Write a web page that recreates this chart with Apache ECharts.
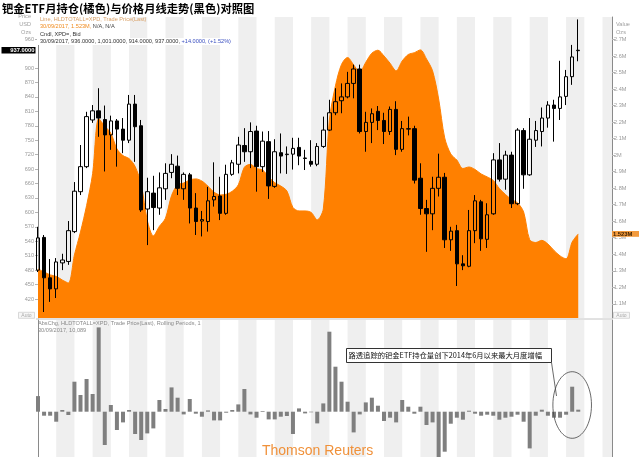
<!DOCTYPE html>
<html><head><meta charset="utf-8">
<script src="https://cdn.jsdelivr.net/npm/echarts@6/dist/echarts.min.js"></script>
<style>html,body{margin:0;padding:0;background:#fff;}#c{width:640px;height:457px;}</style>
</head><body><div id="c"></div>
<script>
// ---- data (monthly, Apr 2010 .. Sep 2017) ----
const lastDate = '30/09/2017';
const open  = [480,548,464,441,495,498,560,643,695,792, 811,793,761,790,773,750,825,780,607,640, 609,649,683,696,649,678,609,582,581,626, 634,598,679,700,739,726,769,695,747,654, 724,720,721,735,712,706,700,737,771,807, 832,840,868,898,768,787,810,791,768,814, 731,773,774,671,608,597,650,673,543,562, 493,488,562,622,544,597,709,669,719,618, 770,678,750,768,796,823,816,841,882,936];
const high  = [570,553,503,505,514,582,663,740,809,823, 858,822,801,794,796,844,844,792,672,676, 683,702,721,718,683,682,640,603,653,704, 674,699,709,757,775,787,780,768,769,752, 764,737,755,755,730,750,744,799,834,858, 868,892,907,907,809,816,821,807,820,831, 790,799,780,702,626,674,722,682,570,574, 511,605,636,626,619,723,744,728,726,775, 775,796,790,818,831,834,915,896,948,1001];
const low   = [476,393,414,422,480,491,557,636,692,786, 757,685,730,695,723,744,705,601,532,563, 595,626,671,636,626,577,553,550,560,612, 584,595,676,681,705,692,643,684,628,651, 681,680,689,698,688,695,696,734,769,802, 806,837,837,764,726,744,771,742,761,719, 726,760,660,595,518,563,633,526,520,447, 480,486,536,520,526,595,664,647,609,615, 649,676,736,737,776,747,792,823,865,914];
const close = [547,464,441,497,501,562,644,695,799,811, 796,761,790,773,750,825,778,605,643,610, 651,681,700,650,679,609,581,585,624,633, 598,679,703,740,726,768,695,748,655,726, 717,721,733,717,713,700,737,771,807,830, 840,868,898,768,787,805,791,768,814,731, 774,774,667,608,597,650,673,543,561,493, 489,562,624,545,595,709,669,719,618,771, 678,752,770,796,823,816,840,882,923,937];
// ETF holdings, million oz
const etf = [1.311,1.293,1.275,1.266,1.244,1.226,1.396,1.535,1.694,1.888, 2.221,2.175,2.133,2.038,1.997,1.979,1.931,1.823,1.606,1.511, 1.569,1.618,1.755,1.821,1.831,1.850,1.856,1.843,1.812,1.776, 1.759,1.763,1.781,1.820,1.927,1.944,1.919,1.910,1.868,1.833, 1.813,1.783,1.683,1.662,1.662,1.653,1.608,1.674,2.213,2.419, 2.549,2.591,2.546,2.503,2.562,2.617,2.635,2.600,2.556,2.510, 2.570,2.609,2.620,2.637,2.582,2.510,2.340,2.104,2.007,1.970, 1.919,1.928,1.913,1.886,1.868,1.847,1.798,1.762,1.732,1.711, 1.656,1.487,1.471,1.484,1.462,1.423,1.390,1.372,1.474,1.523];
// monthly absolute change of holdings, oz
const chg = [78000,-20000,-20000,-50000,8500,-16500,150000,83500,163500,88500, 421500,-166500,33500,-91500,-53500,8500,-111500,-141500,-108500,-83500, 58500,13500,121500,70000,-13500,63500,-10000,-25000,6500,-43500, -43500,-5000,8500,36500,113500,-13500,-30000,3500,-38500,-38500, -25000,-21500,-111500,16500,-8500,-3000,-58500,41500,400000,225000, 150000,50000,-103500,-13500,46500,70000,30000,-46500,-30000,-53500, 58500,25000,-10000,25000,-66500,-53500,-250000,-200000,-60000,-30000, -40000,5000,-10000,-20000,-15000,-20000,-40000,-30000,-25000,-15000, -50000,-183500,-20000,10000,-20000,-30000,-30000,-15000,125000,10089];
// shaded quarters (month index where a grey quarter starts)
const stripeStarts = [3,9,15,21,27,33,39,45,51,57,63,69,75,81,87,93];
const priceTicks = [420,450,480,510,540,570,600,630,660,690,720,750,780,810,840,870,900,960];
const etfTicks = [1.1,1.2,1.3,1.4,1.5,1.6,1.7,1.8,1.9,2.0,2.1,2.2,2.3,2.4,2.5,2.6,2.7];

// ---- chart ----
const X_MIN = -0.33, X_MAX = 94.56;
const PRICE_MIN = 380.5, PRICE_MAX = 1006;
const ETF_MIN = 1.014, ETF_MAX = 2.836;
const CHG_MIN = -226500, CHG_MAX = 458500;
const SF = 'Arial, "Liberation Sans", sans-serif';
const CJK = '"Noto Sans CJK SC", sans-serif';

const candleData = open.map((o, i) => [i, o, close[i], low[i], high[i]]);
const etfData = etf.map((v, i) => [i, v]);
const chgData = chg.map((v, i) => [i, v]);
const stripeAreas = stripeStarts.map(s => [{xAxis: s}, {xAxis: Math.min(s + 3, X_MAX)}]);

const chart = echarts.init(document.getElementById('c'), null, {renderer: 'canvas'});
const axisLbl = {fontSize: 5.6, color: '#9a9a9a', margin: 2, fontFamily: SF};
const option = {
  animation: false,
  backgroundColor: '#fff',
  grid: [
    {left: 36, top: 17, width: 576, height: 301},
    {left: 36, top: 320, width: 576, height: 137}
  ],
  xAxis: [
    {type: 'value', gridIndex: 0, min: X_MIN, max: X_MAX, show: false},
    {type: 'value', gridIndex: 1, min: X_MIN, max: X_MAX, show: false}
  ],
  yAxis: [
    {type: 'value', gridIndex: 0, position: 'left', min: PRICE_MIN, max: PRICE_MAX,
     splitLine: {show: false}, axisLine: {show: true, lineStyle: {color: '#8a8a8a'}},
     axisTick: {show: true, length: 3, customValues: priceTicks, lineStyle: {color: '#b5b5b5'}},
     axisLabel: Object.assign({customValues: priceTicks}, axisLbl)},
    {type: 'value', gridIndex: 0, position: 'right', min: ETF_MIN, max: ETF_MAX,
     splitLine: {show: false}, axisLine: {show: true, lineStyle: {color: '#8a8a8a'}},
     axisTick: {show: true, length: 3, customValues: etfTicks, lineStyle: {color: '#b5b5b5'}},
     axisLabel: Object.assign({customValues: etfTicks, formatter: v => (+v.toFixed(1)) + 'M'}, axisLbl)},
    {type: 'value', gridIndex: 1, position: 'left', min: CHG_MIN, max: CHG_MAX,
     splitLine: {show: false}, axisLine: {show: true, lineStyle: {color: '#8a8a8a'}},
     axisTick: {show: false}, axisLabel: {show: false}},
    {type: 'value', gridIndex: 1, position: 'right', min: CHG_MIN, max: CHG_MAX,
     splitLine: {show: false}, axisLine: {show: true, lineStyle: {color: '#8a8a8a'}},
     axisTick: {show: false}, axisLabel: {show: false}}
  ],
  series: [
    {type: 'line', xAxisIndex: 0, yAxisIndex: 1, data: etfData, silent: true, symbol: 'none',
     lineStyle: {opacity: 0}, z: 0,
     markArea: {silent: true, itemStyle: {color: '#efefef'}, data: stripeAreas}},
    {type: 'line', xAxisIndex: 1, yAxisIndex: 2, data: chgData, silent: true, symbol: 'none',
     lineStyle: {opacity: 0}, z: 0,
     markArea: {silent: true, itemStyle: {color: '#efefef'}, data: stripeAreas}},
    {name: 'ETF', type: 'line', xAxisIndex: 0, yAxisIndex: 1, data: etfData, smooth: 0.3,
     showSymbol: false, symbol: 'none', z: 2,
     lineStyle: {color: '#ff8000', width: 1},
     areaStyle: {color: '#ff8000', opacity: 1, origin: 'start'}},
    {name: 'XPD', type: 'candlestick', xAxisIndex: 0, yAxisIndex: 0, data: candleData,
     encode: {x: 0, y: [1, 2, 3, 4]}, barWidth: 4, clip: false, z: 4,
     itemStyle: {color: 'rgba(255,255,255,0)', color0: '#000', borderColor: '#000', borderColor0: '#000', borderColorDoji: '#000', borderWidth: 1}},
    {name: 'AbsChg', type: 'bar', xAxisIndex: 1, yAxisIndex: 2, data: chgData, barWidth: 4, z: 3,
     itemStyle: {color: '#7f7f7f'}}
  ]
};
chart.setOption(option);

// ---- overlay texts / annotations ----
function fmt4(v) { return v.toLocaleString('en-US', {minimumFractionDigits: 4, maximumFractionDigits: 4}); }
const L = close.length - 1;
const dChg = close[L] - close[L - 1];
const pct = dChg / close[L - 1] * 100;
const sign = v => (v >= 0 ? '+' : '');
const yLast = chart.convertToPixel({yAxisIndex: 0}, close[L]);
const yEtf = chart.convertToPixel({yAxisIndex: 1}, etf[L]);
const xCirc = chart.convertToPixel({xAxisIndex: 1}, L - 1);
const yZero = chart.convertToPixel({yAxisIndex: 2}, 0);

function txt(x, y, text, font, fill, align, extra) {
  return Object.assign({type: 'text', x: x, y: y, z: 100, silent: true,
    style: {text: text, font: font, fill: fill, align: align || 'left', textAlign: align || 'left',
            verticalAlign: 'middle', textVerticalAlign: 'middle'}}, extra || {});
}
const small = '5.6px ' + SF;
const g = [];
// title
g.push(txt(2, 8.5, '钯金ETF月持仓(橘色)与价格月线走势(黑色)对照图', 'bold 11.3px ' + CJK, '#000'));
// legend backgrounds
g.push({type: 'rect', z: 99, silent: true, shape: {x: 37, y: 16, width: 93, height: 22}, style: {fill: '#fff'}});
g.push({type: 'rect', z: 99, silent: true, shape: {x: 37, y: 38, width: 200, height: 7}, style: {fill: '#fff'}});
g.push(txt(40, 19.3, 'Line, HLDTOTALL=XPD, Trade Price(Last)', small, '#d9a066'));
g.push({type: 'text', x: 40, y: 26.7, z: 100, silent: true, style: {
  text: '{o|' + lastDate + ', ' + etf[L].toFixed(3) + 'M, }{d|N/A, N/A}',
  font: small, verticalAlign: 'middle', textVerticalAlign: 'middle',
  rich: {o: {fill: '#f08a1c', font: small}, d: {fill: '#444', font: small}}}});
g.push(txt(40, 34, 'Cndl, XPD=, Bid', small, '#333'));
g.push({type: 'text', x: 40, y: 41.3, z: 100, silent: true, style: {
  text: '{d|' + lastDate + ', ' + fmt4(open[L]) + ', ' + fmt4(high[L]) + ', ' + fmt4(low[L]) + ', ' + fmt4(close[L]) + ', }{b|' +
        sign(dChg) + fmt4(dChg) + ', (' + sign(pct) + pct.toFixed(2) + '%)}',
  font: small, verticalAlign: 'middle', textVerticalAlign: 'middle',
  rich: {d: {fill: '#333', font: small}, b: {fill: '#3a4fc0', font: small}}}});
// axis headers
g.push(txt(31, 16.5, 'Price', small, '#a0a0a0', 'right'));
g.push(txt(31, 24.5, 'USD', small, '#a0a0a0', 'right'));
g.push(txt(31, 32.5, 'Ozs', small, '#a0a0a0', 'right'));
g.push(txt(616, 24.5, 'Value', small, '#a0a0a0'));
g.push(txt(616, 32.5, 'Ozs', small, '#a0a0a0'));
// last price box
g.push({type: 'rect', z: 101, silent: true, shape: {x: 1.5, y: yLast - 3.3, width: 34, height: 6.6}, style: {fill: '#000'}});
g.push(Object.assign(txt(34.5, yLast, fmt4(close[L]), 'bold 5.8px ' + SF, '#fff', 'right'), {z: 102}));
// last ETF box
g.push({type: 'rect', z: 101, silent: true, shape: {x: 612, y: yEtf - 2.9, width: 27, height: 5.8}, style: {fill: '#f39a3c'}});
g.push(Object.assign(txt(613, yEtf, etf[L].toFixed(3) + 'M', 'bold 5.8px ' + SF, '#3b2000'), {z: 102}));
// Auto boxes
[[18.5, 'left'], [613.5, 'right']].forEach(a => {
  g.push({type: 'rect', z: 101, silent: true, shape: {x: a[0], y: 312.3, width: 16, height: 6}, style: {fill: '#f6f6f6', stroke: '#cfcfcf', lineWidth: 0.8}});
  g.push(Object.assign(txt(a[0] + 8, 315.3, 'Auto', '5px ' + SF, '#aaaaaa', 'center'), {z: 102}));
});
// panel separator
g.push({type: 'line', z: 98, silent: true, shape: {x1: 36, y1: 319, x2: 612, y2: 319}, style: {stroke: '#c4c4c4', lineWidth: 1}});
// lower legend
g.push(txt(38, 323.5, 'AbsChg, HLDTOTALL=XPD, Trade Price(Last), Rolling Periods, 1', small, '#8a8a8a'));
g.push(txt(38, 330.2, lastDate + ', ' + chg[L].toLocaleString('en-US'), small, '#8a8a8a'));
// annotation
g.push({type: 'rect', z: 100, silent: true, shape: {x: 346.5, y: 348.5, width: 205, height: 14}, style: {fill: '#fff', stroke: '#333', lineWidth: 1}});
g.push(txt(348.5, 355.6, '路透追踪的钯金ETF持仓量创下2014年6月以来最大月度增幅', '7.3px ' + CJK, '#111'));
g.push({type: 'line', z: 100, silent: true, shape: {x1: 551.5, y1: 362.5, x2: 556.5, y2: 396}, style: {stroke: '#444', lineWidth: 0.8}});
g.push({type: 'ellipse', z: 100, silent: true, shape: {cx: xCirc, cy: yZero - 6.7, rx: 19.3, ry: 33.3}, style: {fill: 'none', stroke: '#444', lineWidth: 0.8}});
// source
g.push({type: 'text', x: 262, y: 444.5, z: 100, silent: true, style: {text: 'Thomson Reuters', font: '14px ' + SF, fill: '#f0913a', verticalAlign: 'top', textVerticalAlign: 'top'}});

chart.setOption({graphic: g});
</script>
</body></html>
